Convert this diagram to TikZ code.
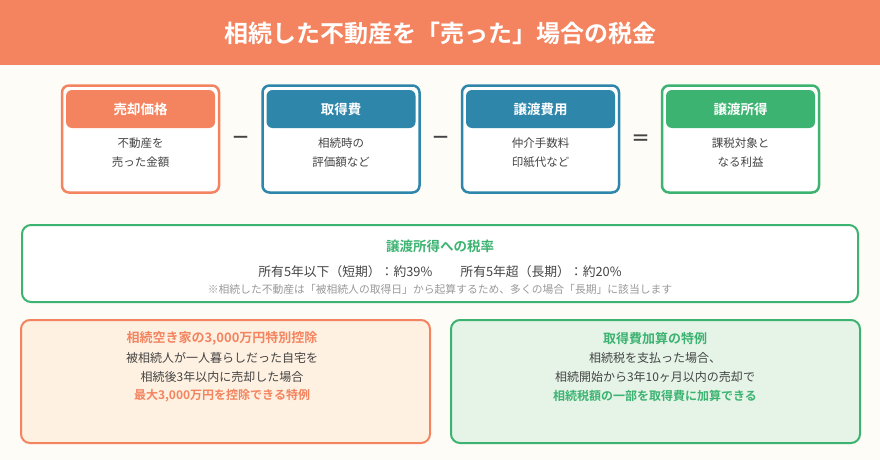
\documentclass[tikz,border=0pt]{standalone}
\usepackage{fontspec}
\setmainfont{Noto Sans CJK JP}[BoldFont={Noto Sans CJK JP Bold}]
\definecolor{bgc}{HTML}{FEFCF6}
\definecolor{orng}{HTML}{F4845F}
\definecolor{blu}{HTML}{2E86AB}
\definecolor{grn}{HTML}{3CB371}
\definecolor{txt}{HTML}{444444}
\definecolor{note}{HTML}{999999}
\definecolor{lorng}{HTML}{FEF1E1}
\definecolor{lgrn}{HTML}{E6F4E8}
\tikzset{
  card/.style={draw=#1, line width=2.5pt, rounded corners=7pt, fill=white, minimum width=157pt, minimum height=107pt},
  cardhead/.style={fill=#1, rounded corners=6pt, minimum width=149pt, minimum height=38pt, text=white, font=\bfseries\fontsize{13.5}{15}\selectfont},
  cardbody/.style={text=txt, align=center, font=\fontsize{11.5}{19}\selectfont},
  op/.style={text=txt, font=\bfseries\fontsize{19}{20}\selectfont},
  panel/.style={draw=#1, line width=2pt, rounded corners=9pt},
}
\begin{document}
\begin{tikzpicture}[x=1pt,y=-1pt]
\path[fill=bgc] (0,0) rectangle (880,460);
\useasboundingbox (0,0) rectangle (880,460);
\fill[orng] (0,0) rectangle (880,65);
\node[text=white, font=\bfseries\fontsize{24}{28}\selectfont] (title) at (440,33) {相続した不動産を「売った」場合の税金};

% cards
\node[card=orng] (c1) at (140.5,139) {};
\node[cardhead=orng] (h1) at (140.5,109) {売却価格};
\node[cardbody] (b1) at (140.5,152.5) {不動産を\\売った金額};

\node[card=blu] (c2) at (341,139) {};
\node[cardhead=blu] (h2) at (341,109) {取得費};
\node[cardbody] (b2) at (341,152.5) {相続時の\\評価額など};

\node[card=blu] (c3) at (540.5,139) {};
\node[cardhead=blu] (h3) at (540.5,109) {譲渡費用};
\node[cardbody] (b3) at (540.5,152.5) {仲介手数料\\印紙代など};

\node[card=grn] (c4) at (740.5,139) {};
\node[cardhead=grn] (h4) at (740.5,109) {譲渡所得};
\node[cardbody] (b4) at (740.5,152.5) {課税対象と\\なる利益};

\node[op] (m1) at (240.5,140) {－};
\node[op] (m2) at (440.5,140) {－};
\node[op] (eq) at (640.5,140) {＝};

% rate panel
\draw[panel=grn, fill=white] (22,225) rectangle (858,302);
\node[text=grn, font=\bfseries\fontsize{13.5}{15}\selectfont] (rt) at (440,246) {譲渡所得への税率};
\node[text=txt, font=\fontsize{12.8}{14}\selectfont] (rl) at (440,272) {所有5年以下（短期）：約39\%\hspace{2.2em}所有5年超（長期）：約20\%};
\node[text=note, font=\fontsize{10.8}{12}\selectfont] (rn) at (440,289) {※相続した不動産は「被相続人の取得日」から起算するため、多くの場合「長期」に該当します};

% bottom panels
\draw[panel=orng, fill=lorng] (21,320) rectangle (430,443);
\node[text=orng, font=\bfseries\fontsize{13}{15}\selectfont] (lt) at (222,338.5) {相続空き家の3,000万円特別控除};
\node[text=txt, align=center, font=\fontsize{12}{18.5}\selectfont] (lb) at (222,367.5) {被相続人が一人暮らしだった自宅を\\相続後3年以内に売却した場合};
\node[text=orng, font=\bfseries\fontsize{12}{15}\selectfont] (lh) at (222,395.5) {最大3,000万円を控除できる特例};

\draw[panel=grn, fill=lgrn] (451,320) rectangle (860,443);
\node[text=grn, font=\bfseries\fontsize{13}{15}\selectfont] (gt) at (655,338.5) {取得費加算の特例};
\node[text=txt, align=center, font=\fontsize{12}{18.5}\selectfont] (gb) at (655,367.5) {相続税を支払った場合、\\相続開始から3年10ヶ月以内の売却で};
\node[text=grn, font=\bfseries\fontsize{12}{15}\selectfont] (gh) at (655,395.5) {相続税額の一部を取得費に加算できる};
\end{tikzpicture}
\end{document}
